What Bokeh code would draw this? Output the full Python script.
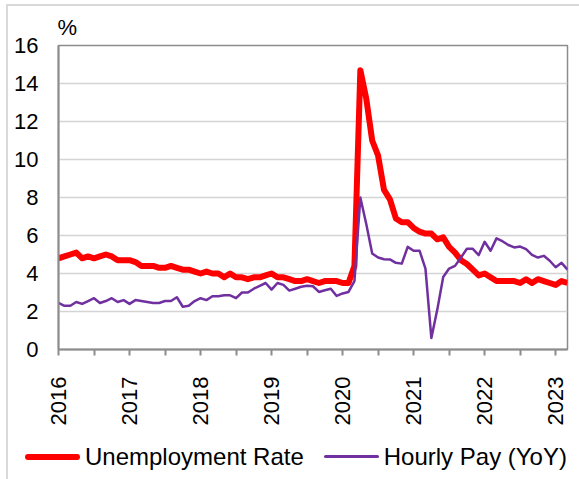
import math
from bokeh.plotting import figure
from bokeh.layouts import column
from bokeh.models import Range1d, FixedTicker, ColumnDataSource, Div
from bokeh.embed import file_html
from bokeh.resources import INLINE

# Monthly data, Jan 2016 .. Mar 2023
years = ["2016", "2017", "2018", "2019", "2020", "2021", "2022", "2023"]
unemployment = [
    4.8, 4.9, 5.0, 5.1, 4.8, 4.9, 4.8, 4.9, 5.0, 4.9, 4.7, 4.7,
    4.7, 4.6, 4.4, 4.4, 4.4, 4.3, 4.3, 4.4, 4.3, 4.2, 4.2, 4.1,
    4.0, 4.1, 4.0, 4.0, 3.8, 4.0, 3.8, 3.8, 3.7, 3.8, 3.8, 3.9,
    4.0, 3.8, 3.8, 3.7, 3.6, 3.6, 3.7, 3.6, 3.5, 3.6, 3.6, 3.6,
    3.5, 3.5, 4.4, 14.7, 13.2, 11.0, 10.2, 8.4, 7.9, 6.9, 6.7, 6.7,
    6.4, 6.2, 6.1, 6.1, 5.8, 5.9, 5.4, 5.1, 4.7, 4.5, 4.2, 3.9,
    4.0, 3.8, 3.6, 3.6, 3.6, 3.6, 3.5, 3.7, 3.5, 3.7, 3.6, 3.5,
    3.4, 3.6, 3.5,
]
hourly_pay = [
    2.45, 2.3, 2.3, 2.5, 2.4, 2.55, 2.7, 2.45, 2.55, 2.7, 2.5, 2.6,
    2.4, 2.6, 2.55, 2.5, 2.45, 2.45, 2.55, 2.55, 2.75, 2.25, 2.3, 2.55,
    2.7, 2.6, 2.8, 2.8, 2.85, 2.85, 2.7, 3.0, 3.0, 3.2, 3.35, 3.5,
    3.15, 3.5, 3.4, 3.1, 3.2, 3.3, 3.35, 3.33, 3.03, 3.12, 3.2, 2.82,
    2.95, 3.03, 3.6, 8.0, 6.6, 5.05, 4.84, 4.75, 4.74, 4.56, 4.52, 5.4,
    5.2, 5.2, 4.26, 0.6, 2.1, 3.82, 4.26, 4.4, 4.84, 5.3, 5.3, 4.97,
    5.67, 5.2, 5.85, 5.7, 5.5, 5.37, 5.42, 5.28, 4.98, 4.84, 4.93, 4.67,
    4.33, 4.56, 4.2,
]
y_ticks = [0, 2, 4, 6, 8, 10, 12, 14, 16]
series_names = ["Unemployment Rate", "Hourly Pay (YoY)"]

month_idx = list(range(len(unemployment)))
src = ColumnDataSource(data=dict(x=month_idx, ur=unemployment, hp=hourly_pay))

FONT = "Liberation Sans"
RED = "#ff0000"
PURPLE = "#7030a0"
series_colors = [RED, PURPLE]
legend_swatch_heights = [6, 3]

p = figure(frame_width=509, frame_height=304, output_backend="svg", toolbar_location=None,
           x_range=Range1d(0, len(unemployment) - 1), y_range=Range1d(0, 16),
           min_border_left=50, min_border_right=12, min_border_top=39, min_border_bottom=85,
           title="%")
p.background_fill_color = "white"
p.border_fill_color = "white"
p.outline_line_color = "#8c8c8c"
p.outline_line_width = 1.5

p.title.text_font = FONT
p.title.text_font_size = "22px"
p.title.text_font_style = "normal"
p.title.text_color = "black"
p.title.align = "left"
p.title.offset = -1
p.title.standoff = 11

p.line("x", "ur", source=src, line_color=RED, line_width=6, line_join="round")
p.line("x", "hp", source=src, line_color=PURPLE, line_width=2.5, line_join="round")

# x axis: ticks every 6 months, year labels every 12
xticks = list(range(0, len(unemployment), 6))
p.xaxis.ticker = FixedTicker(ticks=xticks)
overrides = {}
for t in xticks:
    overrides[t] = years[t // 12] if t % 12 == 0 else ""
p.xaxis.major_label_overrides = overrides
p.xaxis.major_label_orientation = math.pi / 2
p.xaxis.major_label_text_font = FONT
p.xaxis.major_label_text_font_size = "22px"
p.xaxis.major_label_text_color = "black"
p.xaxis.major_tick_out = 6
p.xaxis.major_tick_in = 0
p.xaxis.minor_tick_out = 0
p.xaxis.minor_tick_in = 0
p.xaxis.major_tick_line_color = "#8c8c8c"
p.xaxis.major_tick_line_width = 2
p.xaxis.axis_line_color = "#8c8c8c"
p.xaxis.axis_line_width = 2
p.xaxis.major_label_standoff = 21

p.yaxis.ticker = FixedTicker(ticks=y_ticks)
p.yaxis.major_label_text_font = FONT
p.yaxis.major_label_text_font_size = "22px"
p.yaxis.major_label_text_color = "black"
p.yaxis.major_tick_out = 0
p.yaxis.major_tick_in = 0
p.yaxis.minor_tick_out = 0
p.yaxis.minor_tick_in = 0
p.yaxis.axis_line_color = "#8c8c8c"
p.yaxis.axis_line_width = 2
p.yaxis.major_label_standoff = 20

p.xgrid.grid_line_color = None
p.ygrid.grid_line_color = "#d4d4d4"
p.ygrid.grid_line_width = 1.5

# Legend strip below the chart
items_html = []
for i, (name, col, h) in enumerate(zip(series_names, series_colors, legend_swatch_heights)):
    gap = 0 if i == 0 else 20
    items_html.append(
        f'<span style="display:inline-block;width:55px;height:{h}px;background:{col};'
        f'border-radius:{h / 2}px;vertical-align:middle;margin-left:{gap}px"></span>'
        f'<span style="margin-left:5px;vertical-align:middle">{name}</span>'
    )
legend_div = Div(
    text=('<div style="white-space:nowrap;font-family:\'Liberation Sans\';font-size:24px;'
          'color:black;line-height:32px;padding-left:12px">' + "".join(items_html) + '</div>'),
    width=571, height=45,
    styles={"background": "white"},
)

layout = column(p, legend_div, spacing=0,
                styles={"outline": "2px solid #d9d9d9", "margin-left": "8px", "margin-top": "6px"})

open("out.html", "w").write(file_html(layout, INLINE))
